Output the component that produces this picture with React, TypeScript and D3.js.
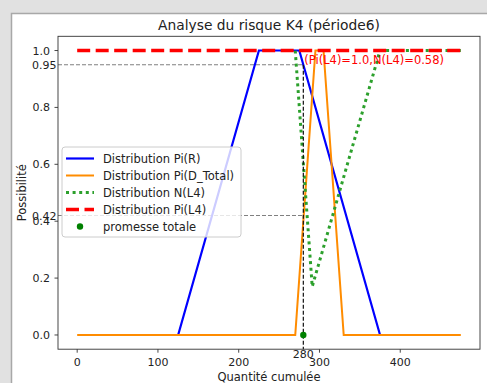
import React from "react";
import * as d3 from "d3";

const W = 487;
const H = 383;

// Data
const piR_x = [125, 225, 275, 375];
const piR_y = [0, 1, 1, 0];
const piD_x = [0, 270, 295, 305, 330, 475];
const piD_y = [0, 0, 1, 1, 0, 0];
const nL4_x = [270, 291, 375, 475];
const nL4_y = [1, 0.17, 1, 1];
const piL4_x = [0, 475];
const piL4_y = [1, 1];
const promesse = 280;
const level95 = 0.95;
const level42 = 0.42;
const xTicks = [0, 100, 200, 300, 400];
const yTicks = [0, 0.2, 0.4, 0.6, 0.8, 1.0];
const title = "Analyse du risque K4 (période6)";
const annotation = "(Pi(L4)=1.0,N(L4)=0.58)";
const legendItems = [
  { label: "Distribution Pi(R)", kind: "blue" },
  { label: "Distribution Pi(D_Total)", kind: "orange" },
  { label: "Distribution N(L4)", kind: "green" },
  { label: "Distribution Pi(L4)", kind: "red" },
  { label: "promesse totale", kind: "dot" },
];

const FONT = "DejaVu Sans, sans-serif";

export default function App() {
  const left = 58, right = 480, top = 36.3, bottom = 349.2;
  const x = d3.scaleLinear().domain([-23.75, 498.75]).range([left, right]);
  const y = d3.scaleLinear().domain([-0.05, 1.05]).range([bottom, top]);
  const line = (xs: number[], ys: number[]) =>
    d3.line<number>().x((_, i) => x(xs[i])).y((_, i) => y(ys[i]))(xs) || "";

  const styles: Record<string, any> = {
    blue: { stroke: "#0000ff", strokeWidth: 2.2 },
    orange: { stroke: "#ff8c00", strokeWidth: 2 },
    green: { stroke: "#2ca02c", strokeWidth: 3, strokeDasharray: "3 3.6" },
    red: { stroke: "#ff0000", strokeWidth: 3.5, strokeDasharray: "13 5.5" },
  };

  return (
    <svg width={W} height={H} style={{ position: "absolute", left: 0, top: 0 }} fontFamily={FONT}>
      <rect x={0} y={0} width={W} height={H} fill="#e1e1e1" />
      <rect x={11.5} y={13.5} width={W} height={H} fill="#ffffff" stroke="#a8a8a8" strokeWidth={1.5} />
      <text x={269} y={29.5} textAnchor="middle" fontSize={13.8} fill="#222">{title}</text>

      {/* reference lines */}
      <line x1={left} x2={x(promesse)} y1={y(level95)} y2={y(level95)} stroke="#808080" strokeWidth={1.2} strokeDasharray="4 2" />
      <line x1={left} x2={x(promesse)} y1={y(level42)} y2={y(level42)} stroke="#808080" strokeWidth={1.2} strokeDasharray="4 2" />

      {/* series */}
      <path d={line(piR_x, piR_y)} fill="none" {...styles.blue} />
      <path d={line(piD_x, piD_y)} fill="none" {...styles.orange} />
      <path d={line(nL4_x, nL4_y)} fill="none" {...styles.green} />
      <path d={line(piL4_x, piL4_y)} fill="none" {...styles.red} />
      <line x1={x(promesse)} x2={x(promesse)} y1={y(level95)} y2={bottom} stroke="#111" strokeWidth={1.2} strokeDasharray="4 2" />
      <circle cx={x(promesse)} cy={y(0)} r={3.2} fill="#008000" />

      <text x={x(promesse) + 1} y={y(1) + 13.5} fontSize={11.5} fill="#ff0000">{annotation}</text>

      {/* axes frame */}
      <rect x={left} y={top} width={right - left} height={bottom - top} fill="none" stroke="#333" strokeWidth={0.9} />
      {xTicks.map((t) => (
        <g key={t}>
          <line x1={x(t)} x2={x(t)} y1={bottom} y2={bottom + 3.5} stroke="#333" strokeWidth={0.9} />
          <text x={x(t)} y={366} textAnchor="middle" fontSize={11} fill="#222">{t}</text>
        </g>
      ))}
      <text x={x(promesse)} y={357.5} textAnchor="middle" fontSize={11} fill="#222">{promesse}</text>
      {yTicks.map((t) => (
        <g key={t}>
          <line x1={left - 3.5} x2={left} y1={y(t)} y2={y(t)} stroke="#333" strokeWidth={0.9} />
          <text x={50} y={y(t) + 4} textAnchor="end" fontSize={11} fill="#222">{t.toFixed(1)}</text>
        </g>
      ))}
      <text x={56.5} y={y(level95) + 4} textAnchor="end" fontSize={11} fill="#222">{level95}</text>
      <text x={56.5} y={y(level42) + 4} textAnchor="end" fontSize={11} fill="#222">{level42}</text>

      <text x={269} y={381} textAnchor="middle" fontSize={11.5} fill="#222">Quantité cumulée</text>
      <text transform={`translate(26,${(top + bottom) / 2}) rotate(-90)`} textAnchor="middle" fontSize={11.5} fill="#222">Possibilité</text>

      {/* legend */}
      <rect x={62} y={147} width={179} height={90} rx={3} fill="#ffffff" fillOpacity={0.8} stroke="#cccccc" strokeWidth={1} />
      {legendItems.map((it, i) => {
        const cy = 158.5 + i * 17;
        return (
          <g key={it.label}>
            {it.kind === "dot" ? (
              <circle cx={80} cy={cy} r={3.2} fill="#008000" />
            ) : (
              <line x1={66} x2={94} y1={cy} y2={cy} fill="none" {...styles[it.kind]} />
            )}
            <text x={103} y={cy + 4.2} fontSize={11.5} fill="#222">{it.label}</text>
          </g>
        );
      })}
    </svg>
  );
}
